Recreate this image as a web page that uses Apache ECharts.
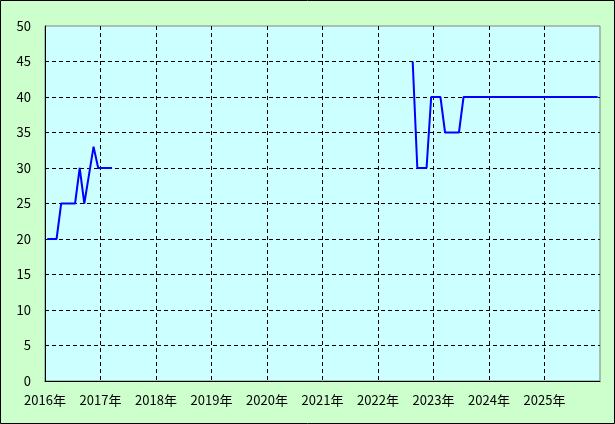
<!DOCTYPE html>
<html><head><meta charset="utf-8">
<script src="https://cdn.jsdelivr.net/npm/echarts@6/dist/echarts.min.js"></script>
<style>html,body{margin:0;padding:0;background:#ccffcc}#c{width:615px;height:424px}</style>
</head><body><div id="c"></div>
<script>
// Monthly observations (YYYY-MM); null = no data
var months1 = ["2016-01","2016-02","2016-03","2016-04","2016-05","2016-06","2016-07","2016-08","2016-09","2016-10","2016-11","2016-12","2017-01","2017-02","2017-03"];
var values1 = [20,20,20,25,25,25,25,30,25,29,33,30,30,30,30];
var months2 = ["2022-08","2022-09","2022-10","2022-11","2022-12","2023-01","2023-02","2023-03","2023-04","2023-05","2023-06","2023-07","2023-08","2023-09","2023-10","2023-11","2023-12","2024-01","2024-02","2024-03","2024-04","2024-05","2024-06","2024-07","2024-08","2024-09","2024-10","2024-11","2024-12","2025-01","2025-02","2025-03","2025-04","2025-05","2025-06","2025-07","2025-08","2025-09","2025-10","2025-11","2025-12"];
var values2 = [45,30,30,30,40,40,40,35,35,35,35,40,40,40,40,40,40,40,40,40,40,40,40,40,40,40,40,40,40,40,40,40,40,40,40,40,40,40,40,40,40];
var yearTicks = [2016,2017,2018,2019,2020,2021,2022,2023,2024,2025];
var yTicks = [0,5,10,15,20,25,30,35,40,45,50];

function toYear(m){ var p=m.split('-'); return +p[0] + (+p[1]-1+0.5)/12; }
var data = [];
months1.forEach(function(m,i){ data.push([toYear(m), values1[i]]); });
data.push([2020, null]);
months2.forEach(function(m,i){ data.push([toYear(m), values2[i]]); });

var font = {color:'#000', fontSize:13, fontFamily:'"Noto Sans CJK JP", "DejaVu Sans", sans-serif'};
var chart = echarts.init(document.getElementById('c'), null, {renderer:'canvas'});
chart.setOption({
  backgroundColor:'#ccffcc',
  animation:false,
  grid:{left:45, top:26, right:15, bottom:43, show:true, backgroundColor:'#ccffff', borderColor:'#808080', borderWidth:1},
  xAxis:{type:'value', min:yearTicks[0], max:2026, interval:1,
    axisLine:{show:true, lineStyle:{color:'#000', width:1}},
    axisTick:{show:false},
    axisLabel:Object.assign({margin:13, showMaxLabel:false, formatter:function(v){return v+'年';}}, font),
    splitLine:{show:true, showMinLine:false, showMaxLine:false, lineStyle:{color:'#000', type:[4,3], width:1}}
  },
  yAxis:{type:'value', min:yTicks[0], max:yTicks[yTicks.length-1], interval:5,
    axisLine:{show:true, lineStyle:{color:'#000', width:1}},
    axisTick:{show:false},
    axisLabel:Object.assign({margin:14}, font),
    splitLine:{show:true, showMinLine:false, showMaxLine:false, lineStyle:{color:'#000', type:[4,3], width:1}}
  },
  graphic:[{type:'rect', shape:{x:0.5,y:0.5,width:614,height:423}, style:{fill:null, stroke:'#000', lineWidth:1}, z:100}],
  series:[{type:'line', data:data, showSymbol:false, connectNulls:false,
    lineStyle:{color:'#0000ff', width:2}, itemStyle:{color:'#0000ff'}}]
});
</script></body></html>
